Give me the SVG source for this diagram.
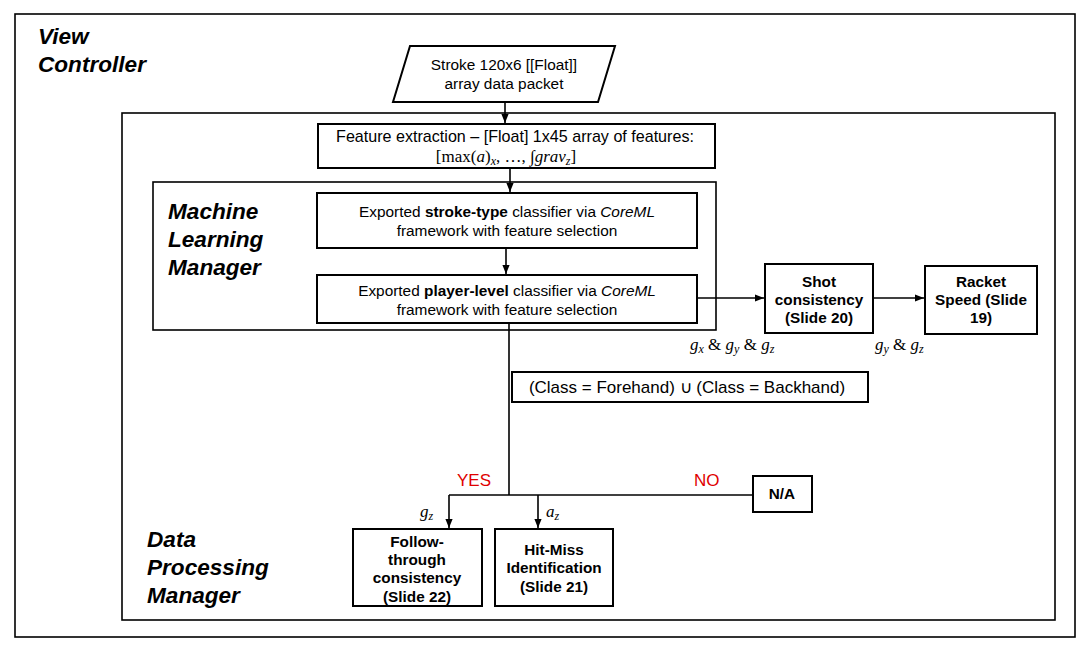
<svg xmlns="http://www.w3.org/2000/svg" width="1090" height="649" viewBox="0 0 1090 649">
<defs>
<marker id="arr" viewBox="0 0 10 10" refX="10" refY="5" markerWidth="9" markerHeight="9" markerUnits="userSpaceOnUse" orient="auto"><path d="M0,1 L10,5 L0,9 z" fill="#000"/></marker>
<style>
.box{fill:#fff;stroke:#000;stroke-width:2}
.frame{fill:none;stroke:#000;stroke-width:1.6}
.t{font-family:"Liberation Sans",Arial,sans-serif;font-size:15.4px;fill:#000;text-anchor:middle}
.b{font-family:"Liberation Sans",Arial,sans-serif;font-size:15.3px;font-weight:bold;fill:#000;text-anchor:middle}
.h{font-family:"Liberation Sans",Arial,sans-serif;font-size:22.6px;font-weight:bold;font-style:italic;fill:#000}
.m{font-family:"Liberation Serif","Times New Roman",serif;font-size:17px;fill:#000}
.mi{font-style:italic}
.sub{font-style:italic;font-size:12px}
.red{font-family:"Liberation Sans",Arial,sans-serif;font-size:17px;fill:#e00000}
.c{fill:none;stroke:#000;stroke-width:1.6}
</style>
</defs>
<rect width="1090" height="649" fill="#fff"/>
<g id="view-controller">
<rect class="frame" x="15" y="14" width="1060" height="623"/>
<text class="h" x="38" y="44">View</text>
<text class="h" x="38" y="72">Controller</text>
</g>
<g id="data-processing-manager">
<rect class="frame" x="122" y="113" width="933" height="507"/>
<text class="h" x="147" y="547">Data</text>
<text class="h" x="147" y="575">Processing</text>
<text class="h" x="147" y="603">Manager</text>
</g>
<g id="machine-learning-manager">
<rect class="frame" x="153" y="182" width="563" height="148"/>
<text class="h" x="168" y="219">Machine</text>
<text class="h" x="168" y="247">Learning</text>
<text class="h" x="168" y="275">Manager</text>
</g>
<g id="connectors">
<path class="c" d="M505,102 V123" marker-end="url(#arr)"/>
<path class="c" d="M510,168 V192" marker-end="url(#arr)"/>
<path class="c" d="M506,248 V274" marker-end="url(#arr)"/>
<path class="c" d="M697,298 H764" marker-end="url(#arr)"/>
<path class="c" d="M873,298 H924" marker-end="url(#arr)"/>
<path class="c" d="M509,323 V495"/>
<path class="c" d="M449,495 H753"/>
<path class="c" d="M449,495 V528" marker-end="url(#arr)"/>
<path class="c" d="M538,495 V528" marker-end="url(#arr)"/>
</g>
<g id="labels">
<text class="m" x="690" y="350"><tspan class="mi">g</tspan><tspan class="sub" dy="3">x</tspan><tspan dy="-3"> &amp; </tspan><tspan class="mi">g</tspan><tspan class="sub" dy="3">y</tspan><tspan dy="-3"> &amp; </tspan><tspan class="mi">g</tspan><tspan class="sub" dy="3">z</tspan></text>
<text class="m" x="875" y="350"><tspan class="mi">g</tspan><tspan class="sub" dy="3">y</tspan><tspan dy="-3"> &amp; </tspan><tspan class="mi">g</tspan><tspan class="sub" dy="3">z</tspan></text>
<text class="m" x="420" y="517"><tspan class="mi">g</tspan><tspan class="sub" dy="3">z</tspan></text>
<text class="m" x="546" y="517"><tspan class="mi">a</tspan><tspan class="sub" dy="3">z</tspan></text>
<text class="red" x="457" y="486">YES</text>
<text class="red" x="694" y="486">NO</text>
</g>
<g id="stroke-packet">
<polygon class="box" points="410,46 615,46 598,102 393,102"/>
<text class="t" x="504" y="70">Stroke 120x6 [[Float]]</text>
<text class="t" x="504" y="89">array data packet</text>
</g>
<g id="feature-extraction">
<rect class="box" x="318" y="124" width="397" height="44"/>
<text class="t" x="515" y="142" style="font-size:16.1px">Feature extraction – [Float] 1x45 array of features:</text>
<text class="m" x="506" y="162" text-anchor="middle">[max(<tspan class="mi">a</tspan>)<tspan class="sub" dy="3">x</tspan><tspan dy="-3">, …, ∫</tspan><tspan class="mi">grav</tspan><tspan class="sub" dy="3">z</tspan><tspan dy="-3">]</tspan></text>
</g>
<g id="stroke-type-classifier">
<rect class="box" x="317" y="193" width="380" height="55"/>
<text class="t" x="507" y="217">Exported <tspan font-weight="bold">stroke-type</tspan> classifier via <tspan font-style="italic">CoreML</tspan></text>
<text class="t" x="507" y="236">framework with feature selection</text>
</g>
<g id="player-level-classifier">
<rect class="box" x="317" y="275" width="380" height="48"/>
<text class="t" x="507" y="296">Exported <tspan font-weight="bold">player-level</tspan> classifier via <tspan font-style="italic">CoreML</tspan></text>
<text class="t" x="507" y="315">framework with feature selection</text>
</g>
<g id="shot-consistency">
<rect class="box" x="765" y="264" width="108" height="69"/>
<text class="b" x="819" y="287">Shot</text>
<text class="b" x="819" y="305">consistency</text>
<text class="b" x="819" y="323">(Slide 20)</text>
</g>
<g id="racket-speed">
<rect class="box" x="925" y="266" width="112" height="68"/>
<text class="b" x="981" y="287">Racket</text>
<text class="b" x="981" y="305">Speed (Slide</text>
<text class="b" x="981" y="323">19)</text>
</g>
<g id="class-condition">
<rect class="box" x="512" y="372" width="356" height="30"/>
<text class="t" x="687" y="393" style="font-size:17px">(Class = Forehand) ∪ (Class = Backhand)</text>
</g>
<g id="na">
<rect class="box" x="753" y="476" width="59" height="36"/>
<text class="b" x="782" y="499">N/A</text>
</g>
<g id="follow-through">
<rect class="box" x="353" y="529" width="129" height="77"/>
<text class="b" x="417" y="547">Follow-</text>
<text class="b" x="417" y="565">through</text>
<text class="b" x="417" y="583">consistency</text>
<text class="b" x="417" y="602">(Slide 22)</text>
</g>
<g id="hit-miss">
<rect class="box" x="495" y="529" width="118" height="77"/>
<text class="b" x="554" y="555">Hit-Miss</text>
<text class="b" x="554" y="573">Identification</text>
<text class="b" x="554" y="592">(Slide 21)</text>
</g>
</svg>
